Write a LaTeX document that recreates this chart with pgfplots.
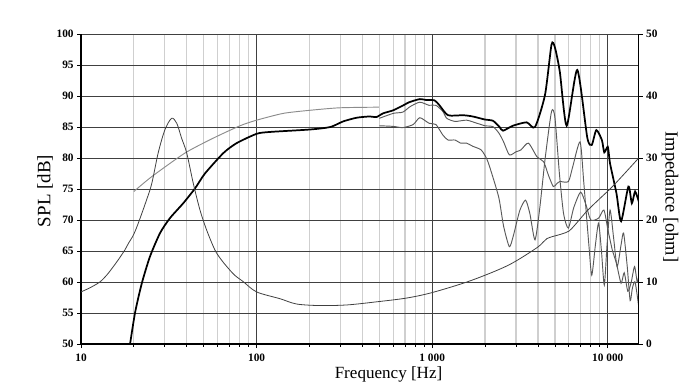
\documentclass[border=0pt]{standalone}
\usepackage{fontspec}
\setmainfont{Liberation Serif}
\usepackage{pgfplots}
\pgfplotsset{compat=1.18}
\usepackage{pgfplotstable}

\pgfplotstableread{
f spl
18.8 49.0
20.3 55.0
22.2 59.8
24.7 64.1
28.2 67.9
32.1 70.3
38.2 72.7
44.6 75.1
50.8 77.5
64.7 80.8
77 82.4
100 83.9
119 84.2
202 84.6
263 85.0
311 85.9
372 86.5
441 86.7
481 86.6
525 87.2
600 87.7
685 88.5
740 89.0
850 89.5
925 89.35
1030 89.3
1100 88.5
1230 86.9
1500 86.9
1700 86.7
2000 86.2
2220 86.0
2420 85.0
2530 84.4
2880 85.2
3450 85.75
3850 85.0
4390 90.2
4780 98.3
5000 97.8
5330 93.9
5830 85.2
6700 94.2
7640 83.3
8100 82.1
8600 84.5
9250 82.9
9550 80.9
10000 81.8
10300 79.1
11200 74.3
11900 69.8
13100 75.4
13700 72.7
14300 74.6
15000 73.0
}\onaxisdata

\pgfplotstableread{
f spl
500 86.4
600 87.2
680 87.4
750 88.3
850 89.0
960 88.5
1050 88.5
1150 87.5
1210 86.4
1350 85.9
1570 86.1
1800 85.6
2000 85.2
2220 85.05
2400 84.0
2550 82.6
2750 80.5
3000 81.0
3200 81.3
3530 82.4
3950 80.2
4310 79.4
4580 77.3
4890 75.4
5100 75.8
5330 76.2
5960 76.2
6300 78.5
6950 82.6
7300 76.0
7800 66.0
8100 61.1
8500 66.0
8860 69.5
9200 65.0
9550 59.5
9900 66.0
10300 71.6
10800 67.0
11300 62.5
11900 66.0
12300 67.9
12900 62.5
13400 57.0
13800 59.0
14300 60.0
15000 56.0
}\thirtydata

\pgfplotstableread{
f spl
500 85.2
600 85.1
680 84.9
780 85.4
850 86.5
960 85.6
1050 85.4
1150 83.7
1230 82.9
1350 82.9
1450 82.4
1570 82.4
1700 81.9
1900 81.3
2050 79.8
2200 77.2
2400 73.5
2550 69.0
2750 65.7
2900 67.5
3150 71.5
3400 73.2
3600 71.0
3850 66.8
4100 72.0
4400 80.0
4780 87.5
5000 86.5
5300 77.5
5600 71.0
5960 68.7
6400 72.0
7000 74.5
7500 72.5
8000 70.0
8860 70.3
9500 71.6
10000 68.5
10600 65.2
11200 63.0
11900 59.8
12400 61.5
13000 58.5
13600 60.0
14200 62.5
14700 60.0
15000 61.0
}\sixtydata

\pgfplotstableread{
f spl
20 74.6
25.3 77.0
39.1 80.8
56.6 83.2
80.5 85.2
100 86.1
142 87.2
202 87.7
298 88.1
497 88.2
}\simdata

\pgfplotstableread{
f z
10 8.4
11.3 9.1
12.8 10.0
14.0 11.1
15.3 12.5
16.6 13.9
17.8 15.2
18.6 16.2
19.9 17.6
21.2 19.5
23.6 23.2
25.3 25.9
27.5 30.8
30 34.5
32.8 36.4
35.1 35.6
37.4 33.2
40 30.8
43.6 25.9
47.6 21.6
51.9 18.4
57.8 15.2
62.5 13.7
67.6 12.5
75 11.1
84 10.05
100 8.4
136 7.3
169 6.45
229 6.2
327 6.3
481 6.8
711 7.4
1000 8.3
1650 10.2
2710 12.7
3980 15.6
4500 17.0
5400 17.7
6000 18.2
6500 19.2
7640 21.5
9040 23.5
10800 25.6
15000 30.0
}\impeddata

\definecolor{gridmaj}{HTML}{404040}
\definecolor{gridmin}{HTML}{CFCFCF}

\begin{document}
\begin{tikzpicture}
\useasboundingbox (0,0) rectangle (525pt,292.5pt);
\begin{axis}[
  at={(60.75pt,34.5pt)}, anchor=south west,
  scale only axis, width=418.3pt, height=232.5pt,
  xmode=log, xmin=10, xmax=15000,
  tick align=outside, major tick length=3pt, minor tick length=2pt,
  tick style={black, line width=0.6pt},
  /pgf/number format/assume math mode=true,
  ticklabel style={font=\bfseries\fontsize{8.5}{10}\selectfont},
  ymin=50, ymax=100, ytick distance=5,
  axis x line*=bottom, axis y line*=left,
  axis line style={black, line width=1.2pt, -},
  xtick={10,100,1000,10000},
  xticklabels={10,100,{1\ 000},{10\ 000}},
  minor xtick={20,30,40,50,60,70,80,90,200,300,400,500,600,700,800,900,2000,3000,4000,5000,6000,7000,8000,9000},
  xtick pos=bottom, ytick pos=left,
  grid=both,
  major grid style={gridmaj, line width=0.7pt},
  minor grid style={gridmin, line width=0.9pt},
  yticklabel style={xshift=1pt},
  xticklabel style={yshift=-1pt},
]
\addplot[color=black!45, line width=0.7pt, smooth, tension=0.4] table[x=f,y=spl] {\simdata};
\addplot[color=black!65, line width=0.7pt, smooth, tension=0.4] table[x=f,y=spl] {\sixtydata};
\addplot[color=black!65, line width=0.7pt, smooth, tension=0.4] table[x=f,y=spl] {\thirtydata};
\addplot[color=black, line width=1.3pt, smooth, tension=0.4] table[x=f,y=spl] {\onaxisdata};
\end{axis}
\begin{axis}[
  at={(60.75pt,34.5pt)}, anchor=south west,
  scale only axis, width=418.3pt, height=232.5pt,
  xmode=log, xmin=10, xmax=15000,
  tick align=outside, major tick length=3pt,
  tick style={black, line width=0.6pt},
  /pgf/number format/assume math mode=true,
  ticklabel style={font=\bfseries\fontsize{8.5}{10}\selectfont},
  ymin=0, ymax=50, ytick={0,10,20,30,40,50},
  axis x line=none, axis y line*=right,
  axis line style={black, line width=1.0pt, -},
  yticklabel style={xshift=-1pt},
]
\addplot[color=black!75, line width=0.6pt, smooth, tension=0.5] table[x=f,y=z] {\impeddata};
\end{axis}
\node[rotate=90, font=\fontsize{14.2}{16}\selectfont] at (33.75pt,149.25pt) {SPL [dB]};
\node[rotate=-90, font=\fontsize{13.8}{16}\selectfont] at (502.5pt,144.75pt) {Impedance [ohm]};
\node[font=\fontsize{12.8}{15}\selectfont] at (291.4pt,12pt) {Frequency [Hz]};
\end{tikzpicture}
\end{document}
